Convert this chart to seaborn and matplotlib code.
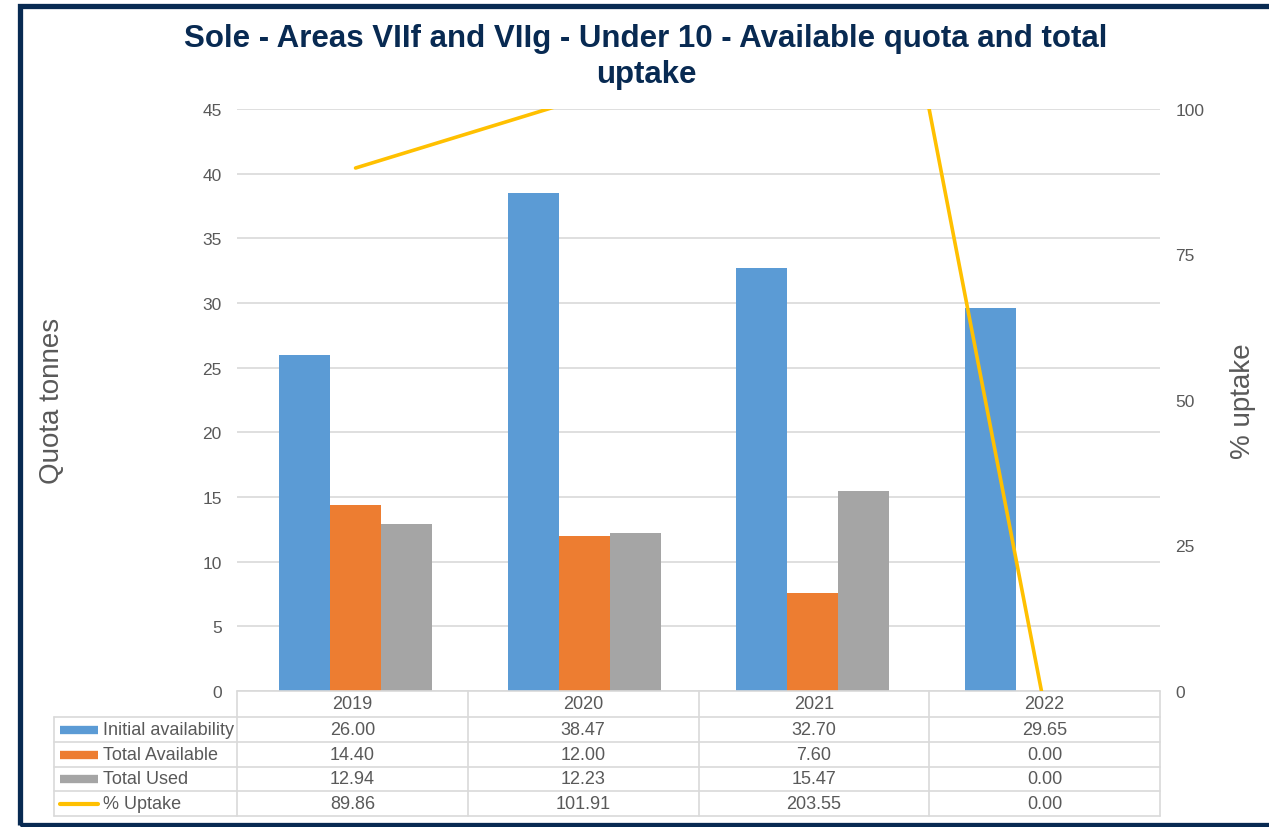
import numpy as np
import pandas as pd
import seaborn as sns
import matplotlib.pyplot as plt
from matplotlib.patches import Rectangle
from matplotlib.lines import Line2D

years = ["2019", "2020", "2021", "2022"]
initial_availability = [26.00, 38.47, 32.70, 29.65]
total_available = [14.40, 12.00, 7.60, 0.00]
total_used = [12.94, 12.23, 15.47, 0.00]
pct_uptake = [89.86, 101.91, 203.55, 0.00]

bar_series = ["Initial availability", "Total Available", "Total Used"]
line_series = "% Uptake"
colors = {"Initial availability": "#5B9BD5", "Total Available": "#ED7D31",
          "Total Used": "#A5A5A5", "% Uptake": "#FFC000"}

title = "Sole - Areas VIIf and VIIg - Under 10 - Available quota and total\nuptake"
GREY = "#595959"
NAVY = "#082A52"
GRID = "#D9D9D9"

sns.set_style("white")
plt.rcParams["font.family"] = ["Liberation Sans", "DejaVu Sans"]

df = pd.DataFrame({
    "year": years * 3,
    "value": initial_availability + total_available + total_used,
    "series": [s for s in bar_series for _ in years],
})

W, H = 1269, 828
PL, PR, PT, PB = 237, 1160, 110, 692   # plot area in pixels
fig = plt.figure(figsize=(W / 100, H / 100), dpi=100)
ax = fig.add_axes([PL / W, (H - PB) / H, (PR - PL) / W, (PB - PT) / H])


def axx(px):
    return (px - PL) / (PR - PL)


def axy(py):
    return (PB - py) / (PB - PT)


sns.barplot(data=df, x="year", y="value", hue="series", hue_order=bar_series,
            palette=colors, width=0.67, ax=ax, legend=False, saturation=1,
            linewidth=0)
ax.set_ylim(0, 45)
ax.set_yticks(np.arange(0, 46, 5))
ax.yaxis.grid(True, color=GRID, lw=1.2)
ax.set_axisbelow(True)
ax.set_xlabel("")
ax.set_xticklabels([])
ax.tick_params(axis="both", length=0, labelsize=12.5, labelcolor=GREY)
ax.tick_params(axis="y", pad=11)
ax.set_ylabel("Quota tonnes", fontsize=20, color=GREY)
ax.yaxis.set_label_coords(axx(65), 0.5)
for s in ax.spines.values():
    s.set_visible(False)

ax2 = ax.twinx()
sns.lineplot(x=np.arange(len(years)), y=pct_uptake, color=colors[line_series],
             lw=2.6, ax=ax2)
ax2.set_ylim(0, 100)
ax2.set_yticks([0, 25, 50, 75, 100])
ax2.tick_params(axis="y", length=0, labelsize=12.5, labelcolor=GREY, pad=11)
ax2.set_ylabel("% uptake", fontsize=20, color=GREY)
ax2.yaxis.set_label_coords(axx(1230), 0.5)
for s in ax2.spines.values():
    s.set_visible(False)

# data table under the plot
rows = [initial_availability, total_available, total_used, pct_uptake]
row_names = bar_series + [line_series]
row_edges = [692, 718, 743, 768, 792, 817]
label_left = 54
col_edges = np.linspace(PL, PR, len(years) + 1)


def hline(y, x0, x1):
    ax.add_line(Line2D([axx(x0), axx(x1)], [axy(y)] * 2, transform=ax.transAxes,
                       color=GRID, lw=1.2, clip_on=False))


def vline(x, y0, y1):
    ax.add_line(Line2D([axx(x)] * 2, [axy(y0), axy(y1)], transform=ax.transAxes,
                       color=GRID, lw=1.2, clip_on=False))


hline(row_edges[0], PL, PR)
for y in row_edges[1:]:
    hline(y, label_left, PR)
vline(label_left, row_edges[1], row_edges[-1])
for x in col_edges:
    vline(x, row_edges[0], row_edges[-1])

txt = dict(transform=ax.transAxes, fontsize=13, color=GREY, va="center")
for j, yr in enumerate(years):
    xc = (col_edges[j] + col_edges[j + 1]) / 2
    ax.text(axx(xc), axy((row_edges[0] + row_edges[1]) / 2), yr, ha="center", **txt)

for i, (name, vals) in enumerate(zip(row_names, rows)):
    yc = (row_edges[i + 1] + row_edges[i + 2]) / 2
    lw = 3 if name == line_series else 6
    ax.add_line(Line2D([axx(60), axx(98)], [axy(yc)] * 2, transform=ax.transAxes,
                       color=colors[name], lw=lw, clip_on=False,
                       solid_capstyle="round" if name == line_series else "butt"))
    ax.text(axx(103), axy(yc), name, ha="left", **txt)
    for j, v in enumerate(vals):
        xc = (col_edges[j] + col_edges[j + 1]) / 2
        ax.text(axx(xc), axy(yc), f"{v:.2f}", ha="center", **txt)

fig.text(646 / W, 1 - 57 / H, title, ha="center", va="center", fontsize=22.5,
         fontweight="bold", color=NAVY, linespacing=1.27)

fig.patches.append(Rectangle((19.5 / W, (H - 826) / H), 1.1, (826 - 6.5) / H,
                             transform=fig.transFigure, fill=False,
                             edgecolor=NAVY, lw=3.8))

fig.savefig("out.png", dpi=100)
